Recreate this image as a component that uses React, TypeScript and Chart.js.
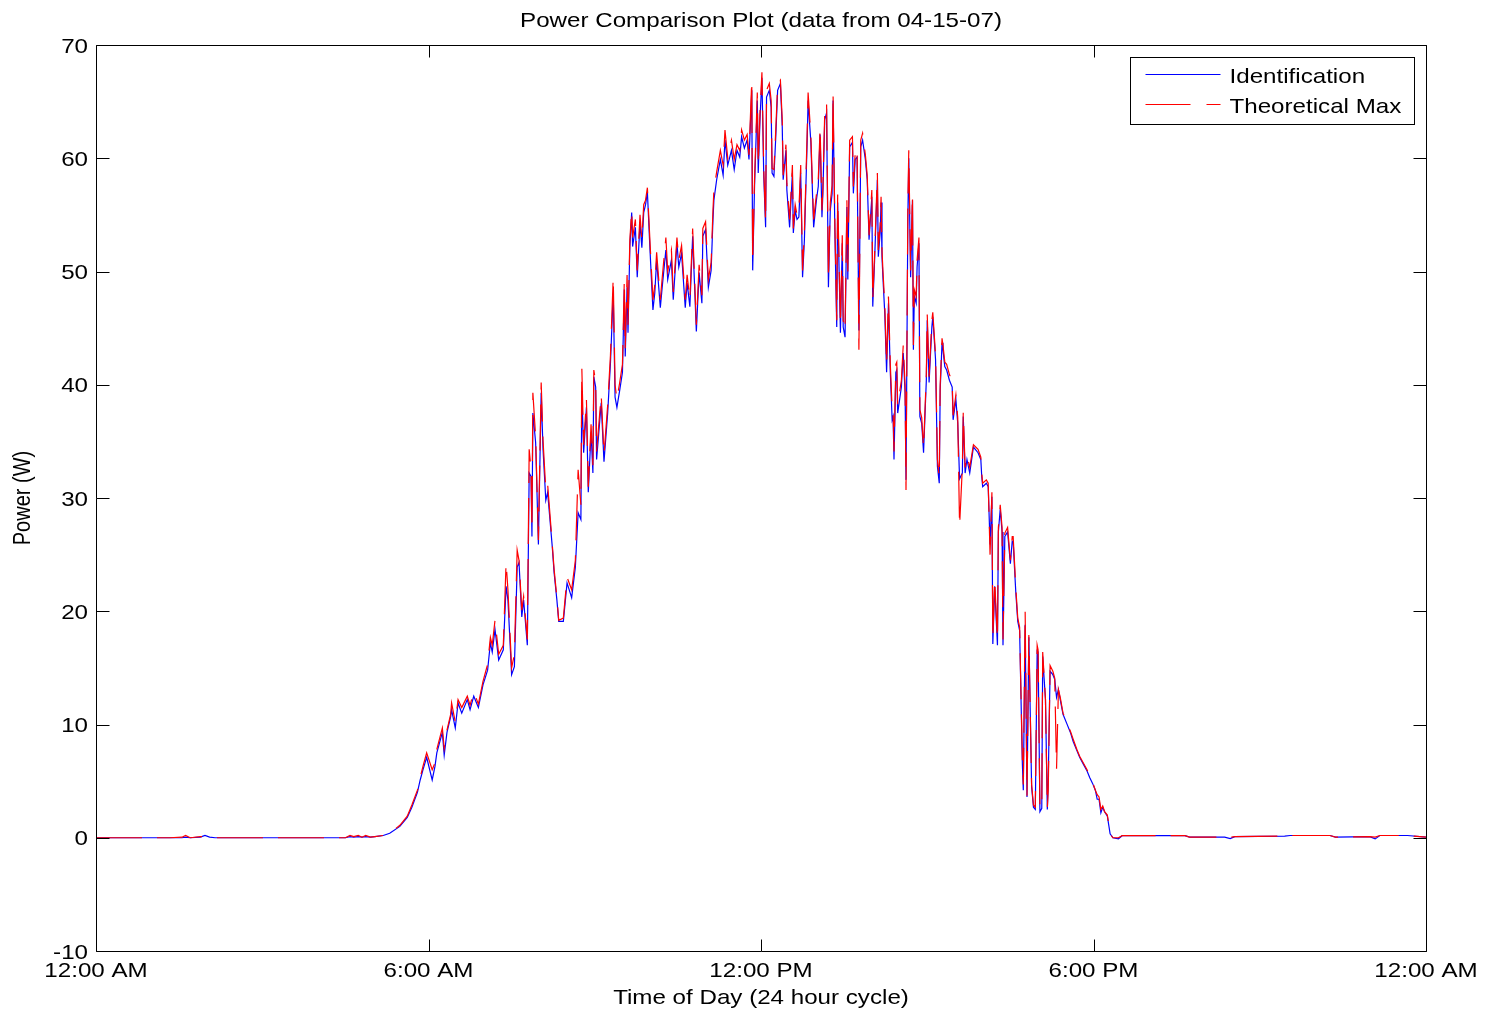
import { useEffect, useRef } from "react";
import { Chart, registerables } from "chart.js";

Chart.register(...registerables);

const TITLE = "Power Comparison Plot (data from 04-15-07)";
const X_TITLE = "Time of Day (24 hour cycle)";
const Y_TITLE = "Power (W)";
const SERIES_NAMES = ["Identification", "Theoretical Max"];
const X_TICKS = [0, 360, 720, 1080, 1440];
const X_TICK_LABELS = ["12:00 AM", "6:00 AM", "12:00 PM", "6:00 PM", "12:00 AM"];
const Y_TICKS = [-10, 0, 10, 20, 30, 40, 50, 60, 70];

// time of day, minutes after midnight
const MINUTES = [
  0, 80, 93, 97, 102, 113, 118, 123, 129, 270, 275, 279, 284, 288, 292, 297, 302, 311, 318,
  329, 337, 342, 348, 351, 354, 358, 364, 367, 369, 375, 377, 380, 384, 385, 389, 392, 396,
  402, 405, 409, 414, 419, 424, 427, 429, 432, 436, 441, 444, 446, 450, 453, 456, 458, 461,
  463, 467, 469, 471, 472, 473, 476, 479, 482, 484, 487, 489, 494, 496, 499, 501, 506, 510,
  515, 519, 522, 525, 526, 528, 531, 533, 536, 538, 539, 541, 542, 547, 550, 554, 557, 560,
  562, 564, 567, 570, 572, 573, 575, 576, 578, 580, 581, 584, 586, 589, 591, 593, 595, 597,
  600, 603, 605, 607, 611, 613, 617, 619, 623, 625, 629, 631, 634, 638, 640, 643, 646, 650,
  653, 656, 657, 660, 663, 666, 668, 669, 672, 676, 679, 681, 684, 688, 691, 694, 697, 699,
  702, 705, 707, 710, 711, 713, 716, 717, 719, 721, 723, 725, 726, 729, 731, 732, 734, 736,
  738, 741, 743, 744, 747, 748, 751, 754, 755, 757, 759, 761, 763, 765, 767, 770, 771, 774,
  776, 777, 780, 782, 784, 786, 787, 789, 791, 793, 795, 797, 798, 800, 802, 803, 806, 808,
  809, 811, 813, 814, 816, 819, 820, 822, 824, 826, 828, 830, 833, 835, 837, 840, 841, 843,
  846, 847, 849, 850, 851, 852, 854, 856, 858, 860, 862, 863, 864, 866, 867, 868, 872, 874,
  876, 877, 879, 880, 882, 884, 885, 886, 888, 889, 891, 892, 894, 896, 899, 900, 902, 905,
  906, 909, 911, 913, 914, 916, 917, 919, 921, 924, 927, 928, 931, 933, 935, 938, 939, 941,
  943, 946, 950, 955, 958, 959, 960, 964, 966, 968, 970, 971, 973, 976, 977, 979, 981, 982,
  984, 987, 990, 992, 993, 995, 996, 998, 1000, 1003, 1004, 1006, 1008, 1010, 1013, 1015,
  1017, 1019, 1020, 1022, 1024, 1025, 1028, 1030, 1031, 1033, 1036, 1038, 1040, 1042, 1044,
  1047, 1051, 1055, 1058, 1062, 1065, 1069, 1073, 1076, 1079, 1082, 1084, 1086, 1088, 1090,
  1092, 1095, 1098, 1101, 1107, 1111, 1179, 1184, 1222, 1228, 1233, 1287, 1293, 1336, 1342,
  1379, 1385, 1390, 1420, 1440,
];

// measured power, W
const IDENTIFICATION = [
  0, 0, 0, 0.05, 0, 0.05, 0.2, 0.05, 0, 0, 0.1, 0.05, 0.1, 0.05, 0.1, 0.05, 0.1, 0.2, 0.4,
  1.0, 1.8, 2.7, 4.0, 5.1, 6.0, 7.1, 5.1, 6.3, 7.5, 9.3, 7.3, 9.3, 10.7, 11.3, 9.7, 11.9, 11.0,
  12.2, 11.3, 12.5, 11.5, 13.5, 14.8, 17.2, 16.4, 18.4, 15.7, 16.6, 22.2, 21.0, 14.4, 15.1, 23.9, 24.3, 19.5,
  21.0, 17.0, 32.2, 31.9, 26.6, 37.5, 34.9, 25.9, 39.3, 34.3, 29.8, 30.5, 25.7, 23.4, 21.0, 19.1, 19.1, 22.5,
  21.2, 23.9, 28.7, 28.1, 39.5, 34.0, 38.0, 30.5, 35.8, 32.2, 40.7, 39.8, 33.4, 38.4, 33.2, 37.5, 41.9, 48.1,
  38.9, 38.0, 39.5, 41.1, 48.4, 42.5, 48.6, 44.6, 52.2, 55.2, 52.2, 53.9, 49.5, 54.3, 52.1, 55.2, 55.9, 57.0,
  51.6, 46.6, 48.1, 51.0, 46.8, 48.6, 51.9, 49.3, 51.0, 47.5, 52.5, 50.4, 51.6, 46.8, 49.0, 46.9, 53.1, 44.7,
  49.9, 47.2, 53.1, 53.7, 48.6, 50.1, 54.6, 56.3, 58.1, 59.9, 58.5, 61.6, 59.4, 60.7, 59.0, 60.7, 60.1, 61.9,
  60.9, 61.6, 59.9, 66.0, 50.1, 57.5, 65.1, 58.7, 63.6, 67.1, 58.4, 53.9, 65.4, 66.0, 64.5, 58.7, 58.4, 61.9,
  66.0, 66.6, 62.8, 58.1, 60.7, 57.2, 53.9, 58.7, 53.4, 55.4, 54.6, 54.8, 58.7, 49.5, 52.8, 61.6, 65.1, 61.4,
  56.3, 53.9, 56.3, 57.5, 62.1, 54.8, 56.9, 63.4, 64.0, 48.6, 55.4, 56.9, 65.1, 53.4, 45.1, 56.1, 44.6, 52.5,
  45.1, 44.2, 55.7, 49.3, 61.0, 61.4, 56.9, 59.9, 60.1, 44.8, 61.0, 61.6, 59.9, 58.1, 52.8, 56.6, 46.9, 51.0,
  58.1, 51.3, 53.4, 56.1, 51.3, 49.5, 46.3, 41.1, 47.2, 41.1, 36.9, 37.2, 33.4, 41.1, 41.3, 37.5, 39.8, 42.8,
  39.3, 31.6, 54.8, 60.0, 49.5, 56.3, 43.1, 47.8, 47.2, 50.4, 52.5, 37.2, 36.6, 34.0, 40.4, 45.7, 40.2, 45.1,
  46.0, 42.2, 32.8, 31.3, 39.5, 43.7, 43.1, 41.6, 41.3, 40.4, 39.8, 36.9, 38.7, 36.6, 31.7, 32.2, 37.2, 32.2,
  33.4, 32.2, 34.5, 34.0, 33.4, 31.9, 31.0, 31.3, 31.0, 25.9, 30.1, 17.1, 22.2, 17.0, 27.0, 29.0, 27.0, 17.0,
  26.6, 27.0, 24.2, 26.2, 26.2, 23.0, 21.5, 19.1, 18.3, 6.5, 4.2, 18.8, 3.6, 17.7, 4.5, 2.7,
  2.5, 16.5, 16.4, 2.3, 2.6, 16.0, 12.2, 2.5, 5.1, 14.7, 14.4, 14.0, 12.4, 13.1, 12.2,
  10.9, 10.1, 9.3, 8.5, 7.7, 7.1, 6.5, 5.9, 5.3, 4.8, 4.2, 3.4, 3.4, 2.2, 2.7,
  2.3, 1.9, 0.35, 0, -0.09, 0.18, 0.18, 0.05, 0.05, -0.08, 0.1, 0.15, 0.2, 0.2, 0.05,
  0.1, -0.1, 0.2, 0.2, 0.05,
];

// theoretical maximum power, W
const THEORETICAL_MAX = [
  0, 0, 0.05, 0.2, 0, 0.1, 0.1, 0.05, 0, 0, 0.2, 0.1, 0.2, 0.05, 0.2, 0.05, 0.1, 0.2, 0.4,
  1.1, 1.9, 2.9, 4.2, 5.3, 6.3, 7.5, 6.0, 6.6, 7.8, 9.7, 7.9, 9.5, 10.9, 11.9, 10.2, 12.2, 11.5,
  12.5, 11.7, 12.9, 11.8, 13.8, 15.3, 17.7, 17.0, 19.2, 16.2, 17.0, 24.3, 21.9, 15.0, 16.2, 25.4, 24.5, 20.1,
  21.3, 17.5, 34.3, 32.5, 27.2, 39.3, 35.4, 26.3, 40.2, 35.1, 30.7, 31.2, 25.9, 23.7, 21.2, 19.2, 19.4, 23.0,
  21.9, 24.5, 32.5, 29.4, 41.5, 34.7, 38.7, 31.0, 36.5, 32.9, 41.3, 40.2, 34.1, 39.1, 33.8, 38.2, 42.6, 49.5,
  40.0, 38.7, 40.2, 41.8, 49.3, 43.1, 49.7, 45.3, 52.8, 55.4, 53.0, 54.6, 50.1, 55.0, 52.8, 55.9, 56.3, 57.4,
  52.3, 47.5, 48.8, 51.7, 47.5, 49.4, 53.0, 50.0, 51.9, 48.2, 53.0, 51.0, 52.3, 47.5, 49.7, 47.5, 53.8, 45.3,
  50.6, 47.9, 53.8, 54.4, 49.3, 50.8, 55.4, 57.2, 58.8, 60.7, 59.4, 62.5, 60.0, 61.6, 59.9, 61.2, 60.7, 62.5,
  61.6, 62.1, 60.3, 66.9, 50.8, 58.1, 65.8, 59.4, 64.3, 67.6, 59.0, 54.4, 66.0, 66.6, 65.1, 59.1, 59.0, 62.5,
  66.5, 66.9, 63.4, 58.5, 61.2, 57.8, 54.6, 59.4, 53.8, 55.9, 55.0, 55.4, 59.4, 50.1, 53.5, 62.3, 65.8, 61.9,
  56.9, 54.6, 56.8, 58.1, 62.7, 55.4, 57.4, 64.0, 64.9, 49.3, 56.1, 57.6, 65.8, 54.1, 45.7, 56.8, 45.3, 53.2,
  45.7, 44.8, 56.3, 50.0, 61.6, 61.9, 57.5, 60.5, 60.9, 43.1, 61.6, 62.2, 60.3, 58.5, 53.2, 57.2, 47.5, 51.5,
  58.7, 51.9, 54.1, 56.6, 51.9, 50.1, 47.1, 41.8, 47.8, 41.8, 37.8, 37.8, 34.1, 41.8, 42.0, 38.2, 40.4, 43.5,
  40.0, 30.7, 55.9, 60.7, 50.1, 56.8, 43.5, 48.4, 47.8, 51.0, 53.0, 37.8, 37.1, 34.4, 40.9, 46.2, 40.7, 45.7,
  46.4, 42.6, 33.4, 31.8, 40.0, 44.1, 43.5, 42.0, 41.8, 40.9, 40.3, 37.3, 39.1, 37.1, 27.5, 32.7, 37.6, 32.7,
  33.8, 32.7, 34.7, 34.3, 33.6, 32.2, 31.3, 31.6, 31.3, 25.0, 30.5, 17.5, 22.8, 17.5, 27.4, 29.4, 27.4, 17.5,
  26.9, 27.4, 24.5, 26.6, 26.6, 23.5, 21.9, 19.4, 18.6, 6.9, 4.7, 20.0, 3.7, 17.9, 4.7, 2.9,
  2.7, 17.0, 16.6, 2.6, 2.6, 16.4, 12.2, 2.6, 4.2, 15.2, 14.7, 14.1, 6.1, 13.1, 12.4,
  11.0, 10.2, 9.4, 8.7, 7.8, 7.2, 6.6, 6.0, 5.4, 4.9, 4.2, 3.8, 3.6, 2.5, 2.8,
  2.3, 2.0, 0.35, 0, 0, 0.18, 0.18, 0.05, 0.05, 0.05, 0.1, 0.15, 0.2, 0.2, 0.05,
  0.1, 0.05, 0.2, 0.2, 0.05,
];

const FONT_FAMILY = "'Liberation Sans', Arial, Helvetica, sans-serif";
const FONT_SIZE = 21;
const STRETCH = 1.15;
const BLUE = "#0000ff";
const RED = "#ff0000";
const RED_DASH = [46, 15];

function drawText(
  ctx: CanvasRenderingContext2D,
  text: string,
  x: number,
  y: number,
  align: CanvasTextAlign,
  rotate = false
) {
  ctx.save();
  ctx.translate(x, y);
  if (rotate) {
    ctx.rotate(-Math.PI / 2);
    ctx.scale(1, STRETCH);
  } else {
    ctx.scale(STRETCH, 1);
  }
  ctx.textAlign = align;
  ctx.textBaseline = "alphabetic";
  ctx.fillText(text, 0, 0);
  ctx.restore();
}

const framePlugin = {
  id: "matlabFrame",
  beforeDraw(chart: any) {
    const ctx = chart.ctx as CanvasRenderingContext2D;
    ctx.save();
    ctx.fillStyle = "#ffffff";
    ctx.fillRect(0, 0, chart.width, chart.height);
    ctx.restore();
  },
  afterDraw(chart: any) {
    const ctx = chart.ctx as CanvasRenderingContext2D;
    const { left, top, right, bottom } = chart.chartArea;
    const xs = chart.scales.x;
    const ys = chart.scales.y;
    const L = Math.round(left) + 0.5;
    const R = Math.round(right) + 0.5;
    const T = Math.round(top) + 0.5;
    const B = Math.round(bottom) + 0.5;
    ctx.save();
    ctx.strokeStyle = "#000000";
    ctx.lineWidth = 1;
    ctx.setLineDash([]);
    ctx.beginPath();
    ctx.rect(L, T, R - L, B - T);
    // inward tick marks on all sides
    X_TICKS.forEach((v) => {
      const px = Math.round(xs.getPixelForValue(v)) + 0.5;
      ctx.moveTo(px, B);
      ctx.lineTo(px, B - 12);
      ctx.moveTo(px, T);
      ctx.lineTo(px, T + 12);
    });
    Y_TICKS.forEach((v) => {
      const py = Math.round(ys.getPixelForValue(v)) + 0.5;
      ctx.moveTo(L, py);
      ctx.lineTo(L + 13, py);
      ctx.moveTo(R, py);
      ctx.lineTo(R - 13, py);
    });
    ctx.stroke();

    ctx.fillStyle = "#000000";
    ctx.font = `${FONT_SIZE}px ${FONT_FAMILY}`;
    X_TICKS.forEach((v, i) => {
      const px = xs.getPixelForValue(v);
      drawText(ctx, X_TICK_LABELS[i], px, bottom + 26, "center");
    });
    Y_TICKS.forEach((v) => {
      const py = ys.getPixelForValue(v);
      drawText(ctx, String(v), left - 8, py + 7.5, "right");
    });
    drawText(ctx, TITLE, (left + right) / 2, 27, "center");
    drawText(ctx, X_TITLE, (left + right) / 2, 1004, "center");
    ctx.font = `20px ${FONT_FAMILY}`;
    drawText(ctx, Y_TITLE, 30, (top + bottom) / 2, "center", true);

    // legend
    const bx = Math.round(right) - 296 + 0.5;
    const by = Math.round(top) + 12 + 0.5;
    const bw = 284;
    const bh = 67;
    ctx.fillStyle = "#ffffff";
    ctx.fillRect(bx, by, bw, bh);
    ctx.strokeStyle = "#000000";
    ctx.lineWidth = 1;
    ctx.strokeRect(bx, by, bw, bh);
    const lx0 = bx + 15;
    const lx1 = bx + 90;
    ctx.lineWidth = 1.2;
    ctx.strokeStyle = BLUE;
    ctx.beginPath();
    ctx.moveTo(lx0, by + 17);
    ctx.lineTo(lx1, by + 17);
    ctx.stroke();
    ctx.strokeStyle = RED;
    ctx.setLineDash([45, 16]);
    ctx.beginPath();
    ctx.moveTo(lx0, by + 47);
    ctx.lineTo(lx1, by + 47);
    ctx.stroke();
    ctx.setLineDash([]);
    ctx.fillStyle = "#000000";
    ctx.font = `${FONT_SIZE}px ${FONT_FAMILY}`;
    drawText(ctx, SERIES_NAMES[0], bx + 99, by + 25, "left");
    drawText(ctx, SERIES_NAMES[1], bx + 99, by + 55, "left");
    ctx.restore();
  },
};

export default function App() {
  const canvasRef = useRef<HTMLCanvasElement | null>(null);

  useEffect(() => {
    document.body.style.margin = "0";
    const canvas = canvasRef.current;
    if (!canvas) return;
    const toPoints = (vals: number[]) => MINUTES.map((m, i) => ({ x: m, y: vals[i] }));
    const chart = new Chart(canvas, {
      type: "line",
      data: {
        datasets: [
          {
            label: SERIES_NAMES[0],
            data: toPoints(IDENTIFICATION),
            borderColor: BLUE,
            borderWidth: 1.2,
            pointRadius: 0,
            tension: 0,
            fill: false,
            order: 1,
          },
          {
            label: SERIES_NAMES[1],
            data: toPoints(THEORETICAL_MAX),
            borderColor: RED,
            borderWidth: 1.2,
            borderDash: RED_DASH,
            pointRadius: 0,
            tension: 0,
            fill: false,
            order: 0,
          },
        ],
      },
      options: {
        responsive: false,
        animation: false,
        devicePixelRatio: 1,
        events: [],
        layout: { padding: { left: 96, top: 45, right: 62, bottom: 64 } },
        plugins: {
          legend: { display: false },
          tooltip: { enabled: false },
          title: { display: false },
        },
        scales: {
          x: { type: "linear", min: 0, max: 1440, display: false },
          y: { type: "linear", min: -10, max: 70, display: false },
        },
      },
      plugins: [framePlugin],
    });
    return () => chart.destroy();
  }, []);

  return (
    <div style={{ width: 1488, height: 1015, overflow: "hidden" }}>
      <canvas ref={canvasRef} width={1488} height={1015} style={{ display: "block" }} />
    </div>
  );
}
